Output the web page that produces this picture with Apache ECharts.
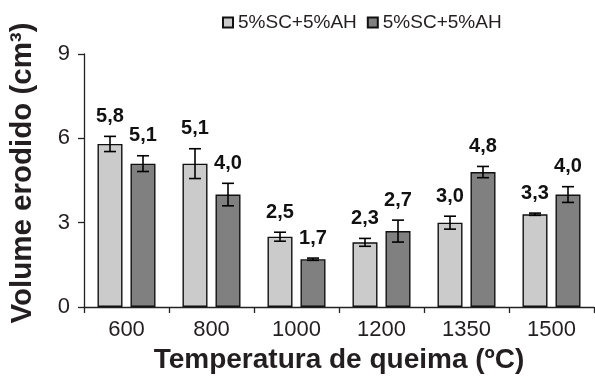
<!DOCTYPE html>
<html>
<head>
<meta charset="utf-8">
<script src="https://cdn.jsdelivr.net/npm/echarts@6/dist/echarts.min.js"></script>
<style>
html,body{margin:0;padding:0;background:#fff;}
#chart{width:595px;height:382px;}
</style>
</head>
<body>
<div id="chart"></div>
<script>
// ---- data ----
const categories = ['600', '800', '1000', '1200', '1350', '1500'];
const legendNames = ['5%SC+5%AH', '5%SC+5%AH'];
const seriesA = [5.8, 5.1, 2.5, 2.3, 3.0, 3.3];
const errorA  = [0.27, 0.53, 0.16, 0.14, 0.23, 0.04];
const seriesB = [5.1, 4.0, 1.7, 2.7, 4.8, 4.0];
const errorB  = [0.28, 0.40, 0.04, 0.39, 0.20, 0.28];
const yTicks = [0, 3, 6, 9];

// ---- chart ----
const chart = echarts.init(document.getElementById('chart'), null, {renderer: 'canvas'});
const FONT = '"Liberation Sans", Arial, sans-serif';
const TXT = '#231f20';
const BAR_W = 25;
const OFF = (BAR_W + 8) / 2;

function fmt(v) { return v.toFixed(1).replace('.', ','); }

function errRender(offset, values) {
  return function (params, api) {
    const idx = api.value(0), v = api.value(1), e = api.value(2);
    const hi = api.coord([idx, v + e]);
    const lo = api.coord([idx, v - e]);
    const x = hi[0] + offset;
    const cap = 6;
    const s = {stroke: '#000', lineWidth: 1.6};
    return {
      type: 'group',
      children: [
        {type: 'line', shape: {x1: x, y1: hi[1], x2: x, y2: lo[1]}, style: s},
        {type: 'line', shape: {x1: x - cap, y1: hi[1], x2: x + cap, y2: hi[1]}, style: s},
        {type: 'line', shape: {x1: x - cap, y1: lo[1], x2: x + cap, y2: lo[1]}, style: s},
        {type: 'text', x: x, y: hi[1] - 10,
         style: {text: fmt(values[params.dataIndex]), fill: '#111', align: 'center', verticalAlign: 'bottom',
                 font: 'bold 20px ' + FONT}}
      ]
    };
  };
}

const option = {
  animation: false,
  backgroundColor: '#fff',
  grid: {left: 84, right: 1, top: 54, bottom: 75, containLabel: false},
  legend: {
    data: ['A', 'B'],
    formatter: function (n) { return n === 'A' ? legendNames[0] : legendNames[1]; },
    left: 217, top: 8,
    itemWidth: 10, itemHeight: 10, itemGap: 10,
    icon: 'rect',
    textStyle: {fontFamily: FONT, fontSize: 19, color: TXT}
  },
  xAxis: {
    type: 'category',
    data: categories,
    name: 'Temperatura de queima (ºC)',
    nameLocation: 'middle',
    nameGap: 39,
    nameTextStyle: {fontFamily: FONT, fontSize: 28, fontWeight: 'bold', color: TXT},
    axisLine: {lineStyle: {color: '#222', width: 1.3}},
    axisTick: {show: true, length: 6, lineStyle: {color: '#222', width: 1.3}},
    axisLabel: {fontFamily: FONT, fontSize: 22, color: TXT, margin: 12}
  },
  yAxis: {
    type: 'value',
    min: yTicks[0], max: yTicks[yTicks.length - 1], interval: 3,
    name: 'Volume erodido (cm³)',
    nameLocation: 'middle',
    nameGap: 46,
    nameTextStyle: {fontFamily: FONT, fontSize: 29.5, fontWeight: 'bold', color: TXT, padding: [0, 0, 0, 15]},
    axisLine: {show: true, lineStyle: {color: '#222', width: 1.3}},
    axisTick: {show: true, length: 6, lineStyle: {color: '#222', width: 1.3}},
    axisLabel: {fontFamily: FONT, fontSize: 22, color: TXT, margin: 14},
    splitLine: {show: false}
  },
  series: [
    {name: 'A', type: 'bar', data: seriesA, barWidth: BAR_W, barGap: '32%',
     itemStyle: {color: '#cbcbcb', borderColor: '#111', borderWidth: 1.4}},
    {name: 'B', type: 'bar', data: seriesB, barWidth: BAR_W, barGap: '32%',
     itemStyle: {color: '#808080', borderColor: '#111', borderWidth: 1.4}},
    {type: 'custom', renderItem: errRender(-OFF, seriesA), z: 10,
     data: seriesA.map((v, i) => [i, v, errorA[i]])},
    {type: 'custom', renderItem: errRender(OFF, seriesB), z: 10,
     data: seriesB.map((v, i) => [i, v, errorB[i]])}
  ]
};
chart.setOption(option);
</script>
</body>
</html>
